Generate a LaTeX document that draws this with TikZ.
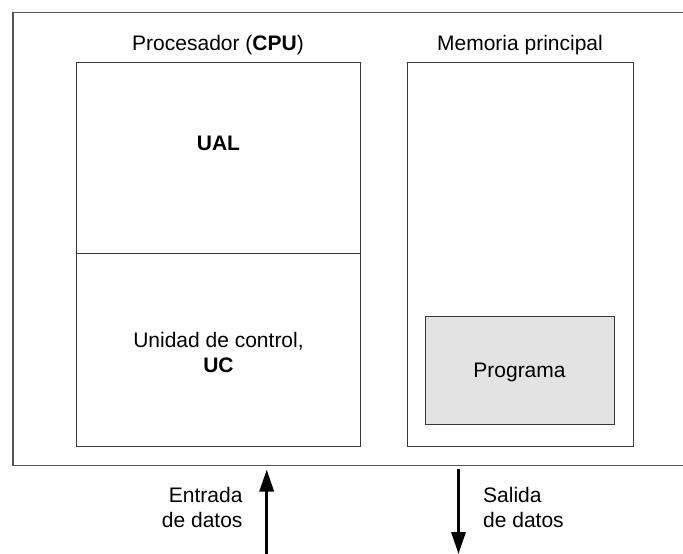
\documentclass[tikz,border=0pt]{standalone}
\usepackage{fontspec}
\setmainfont{Liberation Sans}
\usetikzlibrary{arrows.meta}
\definecolor{progfill}{RGB}{227,227,227}
\definecolor{boxline}{RGB}{55,55,55}
\definecolor{outerline}{RGB}{85,85,85}
\begin{document}
\begin{tikzpicture}[x=1pt,y=-1pt,
  font=\fontsize{21}{25}\selectfont,
  boxst/.style={draw=boxline, line width=1.3pt, inner sep=0pt, anchor=north west},
  lbl/.style={inner sep=0pt, anchor=base},
  bigarrow/.style={line width=3.2pt, -{Triangle[length=22pt,width=14pt]}}]
\useasboundingbox (0,0) rectangle (683,554);
% outer frame (open on the right)
\coordinate (oTR) at (690,12.5);
\coordinate (oTL) at (13,12.5);
\coordinate (oBL) at (13,465.5);
\coordinate (oBR) at (690,465.5);
\draw[draw=outerline, line width=1.7pt] (oTR) -- (oTL) -- (oBL) -- (oBR);
% processor
\node[boxst, minimum width=283.5pt, minimum height=384pt] (cpu) at (76,62) {};
\coordinate (divy) at (0,253.3);
\draw[draw=boxline, line width=1.3pt] (cpu.west |- divy) -- (cpu.east |- divy);
% memory
\node[boxst, minimum width=226.5pt, minimum height=384pt] (mem) at (406.5,62) {};
\node[boxst, fill=progfill, minimum width=189pt, minimum height=108pt] (prog) at (425,316) {};
% labels
\node[lbl] (cputitle) at (218,50) {Procesador (\textbf{CPU})};
\node[lbl] (memtitle) at (520,50) {Memoria principal};
\node[lbl] (ual) at (218.5,150.7) {\textbf{UAL}};
\node[lbl, align=center] (uc) at (218.5,372.7) {Unidad de control,\\\textbf{UC}};
\node[lbl] (progtxt) at (519.5,377) {Programa};
\node[inner sep=0pt, anchor=base east, align=right] (entr) at (242.7,527.5) {Entrada\\de datos};
\node[inner sep=0pt, anchor=base west, align=left] (sal) at (483,527.5) {Salida\\de datos};
% arrows
\coordinate (inS) at (266.7,556);
\coordinate (inE) at (266.7,469.5);
\draw[bigarrow] (inS) -- (inE);
\coordinate (outS) at (458.5,469);
\coordinate (outE) at (458.5,554);
\draw[bigarrow] (outS) -- (outE);
\end{tikzpicture}
\end{document}
